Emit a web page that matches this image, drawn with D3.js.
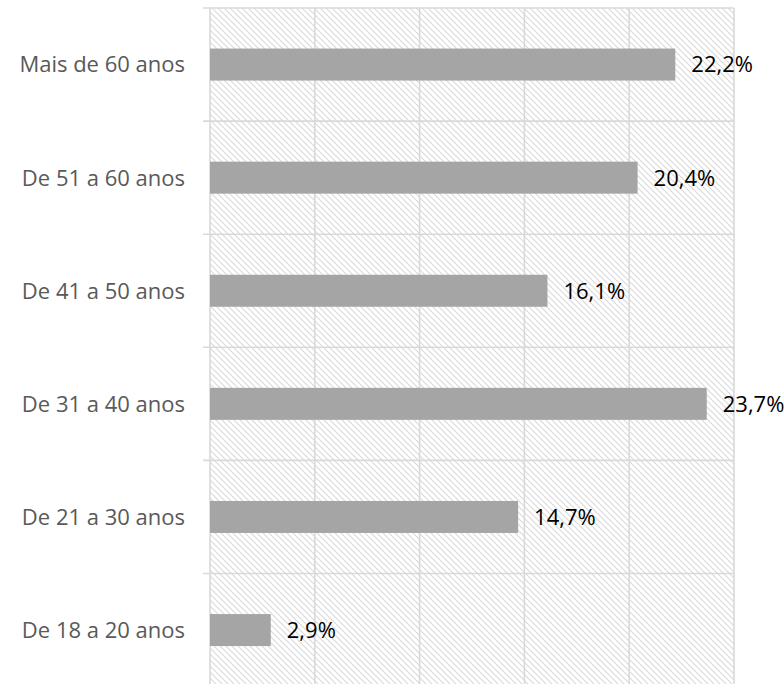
<!DOCTYPE html>
<html>
<head>
<meta charset="utf-8">
<script src="https://cdn.jsdelivr.net/npm/d3@7"></script>
<style>
  body { margin: 0; background: #fff; }
</style>
</head>
<body>
<svg width="784" height="684"></svg>
<script>
var categories = ["Mais de 60 anos", "De 51 a 60 anos", "De 41 a 50 anos", "De 31 a 40 anos", "De 21 a 30 anos", "De 18 a 20 anos"];
var values = [22.2, 20.4, 16.1, 23.7, 14.7, 2.9];
var xTicks = [0, 5, 10, 15, 20, 25];

var svg = d3.select("svg"),
	plotLeft = 210, plotRight = 734, plotTop = 8, band = 113.1,
	plotBottom = plotTop + band * categories.length;

var x = d3.scaleLinear().domain([0, 25]).range([plotLeft, plotRight]);
var y = d3.scaleBand().domain(categories).range([plotTop, plotBottom]);

// hatch pattern
var defs = svg.append("defs");
var pat = defs.append("pattern")
	.attr("id", "hatch")
	.attr("patternUnits", "userSpaceOnUse")
	.attr("width", 6).attr("height", 6);
pat.append("path")
	.attr("d", "M0,0L6,6M-1,5L1,7M5,-1L7,1")
	.attr("stroke", "#d9d9d9")
	.attr("stroke-width", 1.1);

svg.append("rect")
	.attr("x", plotLeft).attr("y", plotTop)
	.attr("width", plotRight - plotLeft).attr("height", plotBottom - plotTop)
	.attr("fill", "url(#hatch)");

// vertical grid
svg.selectAll(".vgrid")
	.data(xTicks)
	.enter()
	.append("line")
	.attr("x1", function (d) { return x(d) })
	.attr("x2", function (d) { return x(d) })
	.attr("y1", plotTop).attr("y2", plotBottom)
	.attr("stroke", "#d9d9d9")
	.attr("stroke-width", 1.6);

// horizontal lines at band edges
var edges = categories.map(function (c) { return y(c) }).concat([plotBottom]);
svg.selectAll(".hgrid")
	.data(edges)
	.enter()
	.append("line")
	.attr("x1", plotLeft - 7).attr("x2", plotRight)
	.attr("y1", function (d) { return d })
	.attr("y2", function (d) { return d })
	.attr("stroke", "#d9d9d9")
	.attr("stroke-width", 1.6);

// bars
var barH = 32;
svg.selectAll(".bar")
	.data(values)
	.enter()
	.append("rect")
	.attr("x", x(0))
	.attr("y", function (d, i) { return y(categories[i]) + y.bandwidth() / 2 - barH / 2 })
	.attr("width", function (d) { return x(d) - x(0) })
	.attr("height", barH)
	.attr("fill", "#a5a5a5");

// value labels
svg.selectAll(".val")
	.data(values)
	.enter()
	.append("text")
	.attr("x", function (d) { return x(d) + 16 })
	.attr("y", function (d, i) { return y(categories[i]) + y.bandwidth() / 2 })
	.attr("dy", "0.36em")
	.attr("font-family", "Open Sans, sans-serif")
	.attr("font-size", "22px")
	.attr("fill", "#000")
	.text(function (d) { return d.toFixed(1).replace(".", ",") + "%" });

// category axis
var ax = svg.append("g")
	.attr("transform", "translate(" + plotLeft + ",0)")
	.call(d3.axisLeft(y).tickSize(0).tickPadding(25));
ax.select(".domain").remove();
ax.selectAll("text")
	.attr("font-family", "Open Sans, sans-serif")
	.attr("font-size", "22px")
	.attr("fill", "#595959")
	.attr("dy", "0.36em");
</script>
</body>
</html>
